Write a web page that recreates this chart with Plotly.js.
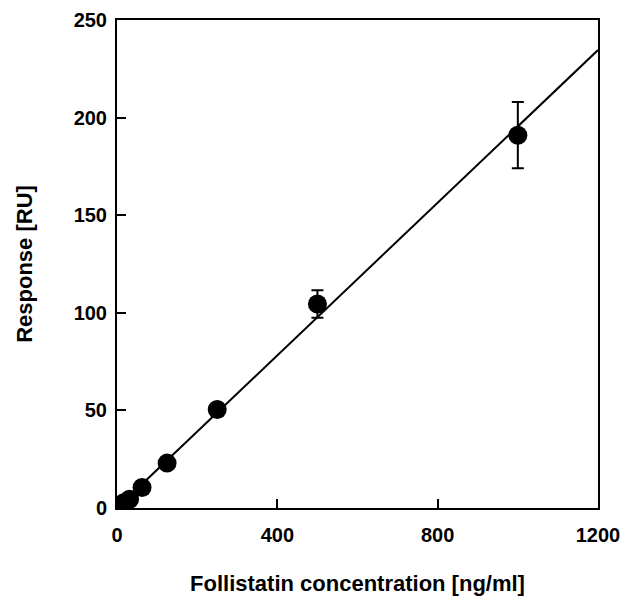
<!DOCTYPE html>
<html>
<head>
<meta charset="utf-8">
<script src="https://cdn.plot.ly/plotly-3.0.1.min.js"></script>
<style>html,body{margin:0;padding:0;background:#fff;}</style>
</head>
<body>
<div id="chart" style="width:624px;height:596px;"></div>
<script>
// Data
var concentration = [15.625, 31.25, 62.5, 125, 250, 500, 1000];
var response = [2.5, 4.5, 10.5, 23, 50.5, 104.5, 191];
var responseErr = [0, 0, 0, 0, 0, 7, 17];
var fitX = [0, 1200];
var fitY = [0, 234.6];
var xTicks = [0, 400, 800, 1200];
var yTicks = [0, 50, 100, 150, 200, 250];

var fontFam = '"Liberation Sans", Arial, sans-serif';

var traces = [
  {
    x: fitX, y: fitY, type: 'scatter', mode: 'lines',
    line: {color: '#000', width: 2}, hoverinfo: 'skip', showlegend: false
  },
  {
    x: concentration, y: response, type: 'scatter', mode: 'markers',
    marker: {color: '#000', size: 19},
    error_y: {type: 'data', array: responseErr, visible: true, color: '#000', thickness: 2, width: 6},
    showlegend: false
  }
];

var axisCommon = {
  showline: true, linecolor: '#000', linewidth: 2, mirror: true,
  showgrid: false, zeroline: false,
  ticks: 'inside', ticklen: 9, tickwidth: 2, tickcolor: '#000',
  tickfont: {family: fontFam, size: 20, color: '#000', weight: 'bold'}
};

var layout = {
  width: 624, height: 596,
  margin: {l: 117, r: 26, t: 20, b: 88},
  paper_bgcolor: '#fff', plot_bgcolor: '#fff',
  showlegend: false,
  xaxis: Object.assign({}, axisCommon, {
    range: [0, 1200], tickmode: 'array', tickvals: xTicks, ticktext: xTicks.map(String),
    ticklabelstandoff: 8,
    title: {text: 'Follistatin concentration [ng/ml]', font: {family: fontFam, size: 22, color: '#000', weight: 'bold'}, standoff: 33}
  }),
  yaxis: Object.assign({}, axisCommon, {
    range: [0, 250], tickmode: 'array', tickvals: yTicks, ticktext: yTicks.map(String),
    ticklabelstandoff: 4,
    title: {text: 'Response [RU]', font: {family: fontFam, size: 22, color: '#000', weight: 'bold'}, standoff: 35}
  })
};

Plotly.newPlot('chart', traces, layout, {displayModeBar: false, staticPlot: true});
</script>
</body>
</html>
